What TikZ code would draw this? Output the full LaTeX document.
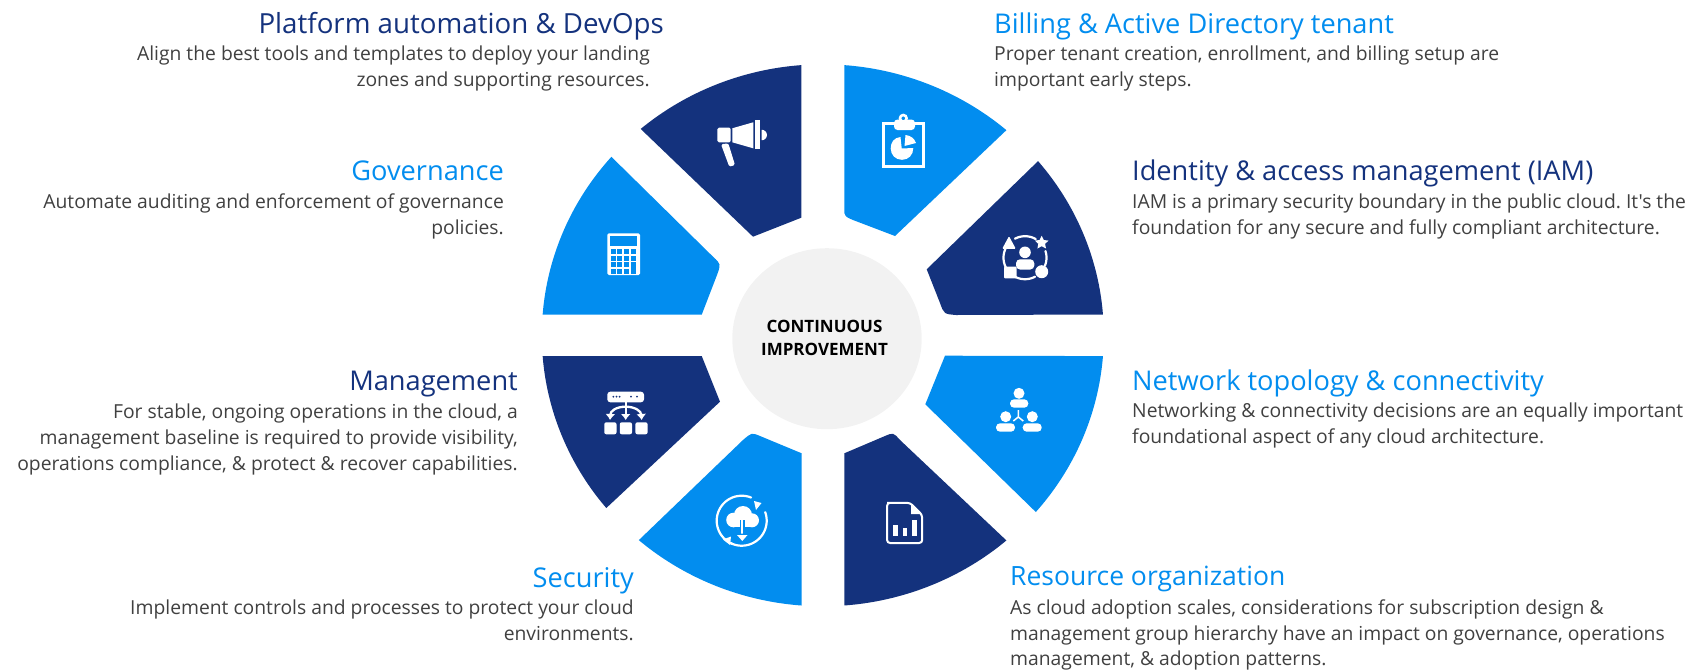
\documentclass[tikz,border=0pt]{standalone}
\usepackage{fontspec}
\usetikzlibrary{arrows.meta}
\setmainfont{Open Sans}[Ligatures=TeXOff]
\definecolor{navy}{HTML}{14327D}
\definecolor{sky}{HTML}{028DEF}
\definecolor{body}{HTML}{404040}
\definecolor{hub}{HTML}{F2F2F2}
\frenchspacing
\tikzset{
  navyseg/.style={fill=navy,draw=none},
  skyseg/.style={fill=sky,draw=none},
  ttlL/.style={anchor=base west,inner sep=0pt,font=\fontsize{27.2}{30}\selectfont},
  ttlR/.style={anchor=base east,inner sep=0pt,font=\fontsize{27.2}{30}\selectfont},
  bodyL/.style={anchor=north west,inner sep=0pt,align=left,text=body,font=\fontsize{19.3}{25.5}\selectfont},
  bodyR/.style={anchor=north east,inner sep=0pt,align=right,text=body,font=\fontsize{19.3}{25.5}\selectfont},
  icon/.style={fill=white,draw=none},
  iconline/.style={draw=white,fill=none,line cap=round},
  mgmtarrow/.style={white,line width=2.3pt,-{Latex[length=6pt,width=10pt]}},
}
% elliptical outer rim, parameter angles a to b
\newcommand{\rim}[2]{plot[domain=#1:#2,samples=40] ({822.8+281*cos(\x)},{335.3+271*sin(\x)})}
\begin{document}
\begin{tikzpicture}[x=1pt,y=-1pt]
\useasboundingbox (0,0) rectangle (1698,670);
% hub
\fill[hub] (827,338.7) ellipse [x radius=94.7,y radius=90.5];
\node[inner sep=0pt,align=center,font=\fontsize{17}{22.3}\selectfont\bfseries,text=black] (hubtext) at (824.5,338) {CONTINUOUS\\IMPROVEMENT};
% segments
\fill[navyseg] \rim{265.6}{229.6} -- (753,236.7) -- (801.3,217.7) -- cycle;
\fill[skyseg] \rim{274.4}{310.8} -- (895,236) -- (853,220) .. controls (846,217) .. (844.3,213) -- cycle;
\fill[navyseg] \rim{355.6}{320} -- (926.7,269.3) -- (940,303) .. controls (944,314) .. (956,315) -- cycle;
\fill[skyseg] \rim{4.4}{40.7} -- (925.3,404.3) -- (945,355.7) -- cycle;
\fill[navyseg] \rim{85.6}{49.2} -- (900,440) .. controls (893.3,432.5) .. (885,436) -- (844.3,453.3) -- cycle;
\fill[skyseg] \rim{94.3}{130.9} -- (743,440) .. controls (751.7,432.5) .. (760,436) -- (801.7,453.3) -- cycle;
\fill[navyseg] \rim{140.4}{175.6} -- (701.7,356) -- (720,401.7) -- cycle;
\fill[skyseg] \rim{184.4}{221.2} -- (713,256.7) .. controls (721,264) .. (717,275) -- (701.7,314.7) -- cycle;
% icon: megaphone
\fill[icon,rounded corners=1.5pt] (717.3,127.7) rectangle (730.7,142.3);
\fill[icon] (732.3,128.3) -- (753.3,122.3) -- (753.3,148.3) -- (732.3,142.3) -- cycle;
\fill[icon] (755,120) rectangle (760,149);
\fill[icon] plot[domain=-90:90,samples=16] ({761.7+5.2*cos(\x)},{135+5.2*sin(\x)}) -- cycle;
\fill[icon,rounded corners=1.5pt] (721,144.3) -- (728.3,143.3) -- (735,165) -- (729.3,166.7) -- cycle;
% icon: clipboard
\draw[white,line width=2.7pt] (883.6,123.6) rectangle (923.7,166.4);
\fill[icon,rounded corners=3.5pt] (894,119.5) rectangle (915,130);
\draw[white,line width=2.6pt,fill=sky] (903.3,118.3) circle [radius=3.3];
\fill[icon] (901.7,148.5) -- (900.5,137) .. controls (894,137.5) and (890.7,142.5) .. (890.7,148.3) .. controls (890.7,155) and (895.5,159.8) .. (902,159.8) .. controls (908.5,159.8) and (913.3,155) .. (913.3,148) -- cycle;
\fill[icon] (904.5,146) -- (905.5,135) .. controls (910.5,135.5) and (914.5,138.5) .. (916,143) -- cycle;
% icon: calculator
\fill[icon,rounded corners=1.5pt] (607.3,233.3) rectangle (640,275);
\fill[sky] (610,236) rectangle (637.3,245.7);
\foreach \cx in {610.5,617.3,624.1,630.9} \foreach \cy in {249,255.5,262,268.5} {\fill[sky] (\cx,\cy) rectangle ++(5,5);}
\fill[sky] (630.9,262) rectangle ++(5,11.5);
% icon: IAM
\foreach \ra/\rb in {242/300,135/205,62/120,-18/22} {\draw[iconline,line width=2.2pt] plot[domain=\ra:\rb,samples=16] ({1025+21.5*cos(\x)},{257.7+21.5*sin(\x)});}
\fill[icon,rounded corners=1pt] (1009,236.2) -- (1002.2,248.8) -- (1015.8,248.8) -- cycle;
\fill[icon] (1041.7,235.8) -- (1043.8,240) -- (1048.5,240.6) -- (1045.1,243.8) -- (1046,248.5) -- (1041.7,246.2) -- (1037.4,248.5) -- (1038.3,243.8) -- (1034.9,240.6) -- (1039.6,240) -- cycle;
\fill[icon,rounded corners=1pt] (1004,266.7) rectangle (1016.7,278.3);
\fill[icon] (1041.7,271.7) circle [radius=6.5];
\fill[icon] (1025,252.3) circle [radius=5.8];
\fill[icon,rounded corners=4pt] (1016,269.5) -- (1016,259.3) -- (1034.3,259.3) -- (1034.3,269.5) -- cycle;
% icon: network
\fill[icon] (1019,393.3) circle [radius=5.5];
\fill[icon,rounded corners=4pt] (1010,407.7) -- (1010,399.3) -- (1028.3,399.3) -- (1028.3,407.7) -- cycle;
\fill[icon] (1005.7,416.7) circle [radius=5.5];
\fill[icon,rounded corners=4pt] (996,431.7) -- (996,423.3) -- (1015,423.3) -- (1015,431.7) -- cycle;
\fill[icon] (1032.3,416.7) circle [radius=5.5];
\fill[icon,rounded corners=4pt] (1022.7,431.7) -- (1022.7,423.3) -- (1041.7,423.3) -- (1041.7,431.7) -- cycle;
\draw[white,line width=1.5pt] (1018.3,410) -- (1018.3,417) -- (1013.3,421) (1018.3,417) -- (1023.3,421);
% icon: management
\fill[icon,rounded corners=3pt] (607.3,391.7) rectangle (644,402.3);
\foreach \dx in {613.3,616.5,619.7,631,637} {\fill[navy] (\dx,396.7) circle [radius=1];}
\foreach \sx in {604.3,619.8,635.4} {\fill[icon,rounded corners=2pt] (\sx,422.3) rectangle ++(12.2,12);}
\draw[mgmtarrow] (625.7,402) -- (625.7,420);
\draw[mgmtarrow] (625.7,406.7) .. controls (616,406.7) and (610.5,411) .. (610,420);
\draw[mgmtarrow] (625.7,406.7) .. controls (635,406.7) and (641,411) .. (641.7,420);
% icon: security
\draw[iconline,line width=2.2pt] plot[domain=-68:-248,samples=30] ({741.7+25*cos(\x)},{520.7+25*sin(\x)});
\draw[iconline,line width=2.2pt] plot[domain=-20:118,samples=30] ({741.7+25*cos(\x)},{520.7+25*sin(\x)});
\fill[icon] (761.5,503) -- (754,501) -- (756,510) -- cycle;
\fill[icon] (723,539.5) -- (731,536.5) -- (730,545) -- cycle;
\fill[icon] (733.5,520) circle [radius=7.3] (743,515) circle [radius=9] (752,520.3) circle [radius=7];
\fill[icon] (733.5,516) rectangle (752,527.3);
\draw[sky,line width=4.5pt] (742.3,520) -- (742.3,536);
\draw[white,line width=1.8pt] (742.3,519) -- (742.3,536);
\fill[sky] (734.5,533.5) -- (750,533.5) -- (742.3,543) -- cycle;
\fill[icon] (737,535) -- (747.5,535) -- (742.3,541) -- cycle;
% icon: document
\draw[white,line width=2pt,rounded corners=3pt] (910,502.8) -- (890,502.8) -- (887.1,502.8) -- (887.1,543) -- (922.2,543) -- (922.2,515) -- cycle;
\fill[icon] (911,503.5) -- (922,514) -- (911,514) -- cycle;
\fill[icon] (893.3,525) rectangle (898.3,536);
\fill[icon] (902.7,528.3) rectangle (907.3,536);
\fill[icon] (911.7,520) rectangle (916.7,536);
% texts
\node[ttlR,text=navy,font=\fontsize{27.7}{30}\selectfont] (t1) at (664,33) {Platform automation \& DevOps};
\node[bodyR] (b1) at (650,46) {Align the best tools and templates to deploy your landing\\zones and supporting resources.};
\node[ttlL,text=sky] (t2) at (994,33) {Billing \& Active Directory tenant};
\node[bodyL] (b2) at (994,46) {Proper tenant creation, enrollment, and billing setup are\\important early steps.};
\node[ttlR,text=sky] (t3) at (504,180) {Governance};
\node[bodyR] (b3) at (504,194) {Automate auditing and enforcement of governance\\policies.};
\node[ttlL,text=navy] (t4) at (1132,180) {Identity \& access management (IAM)};
\node[bodyL] (b4) at (1132,194) {IAM is a primary security boundary in the public cloud. It's the\\foundation for any secure and fully compliant architecture.};
\node[ttlR,text=navy] (t5) at (518,390) {Management};
\node[bodyR,font=\fontsize{19.3}{26}\selectfont] (b5) at (518,404) {For stable, ongoing operations in the cloud, a\\management baseline is required to provide visibility,\\operations compliance, \& protect \& recover capabilities.};
\node[ttlL,text=sky] (t6) at (1132,390) {Network topology \& connectivity};
\node[bodyL] (b6) at (1132,403) {Networking \& connectivity decisions are an equally important\\foundational aspect of any cloud architecture.};
\node[ttlR,text=sky] (t7) at (634,587) {Security};
\node[bodyR] (b7) at (634,600) {Implement controls and processes to protect your cloud\\environments.};
\node[ttlL,text=sky,font=\fontsize{26.5}{30}\selectfont] (t8) at (1010,585) {Resource organization};
\node[bodyL] (b8) at (1010,600) {As cloud adoption scales, considerations for subscription design \&\\management group hierarchy have an impact on governance, operations\\management, \& adoption patterns.};
\end{tikzpicture}
\end{document}
